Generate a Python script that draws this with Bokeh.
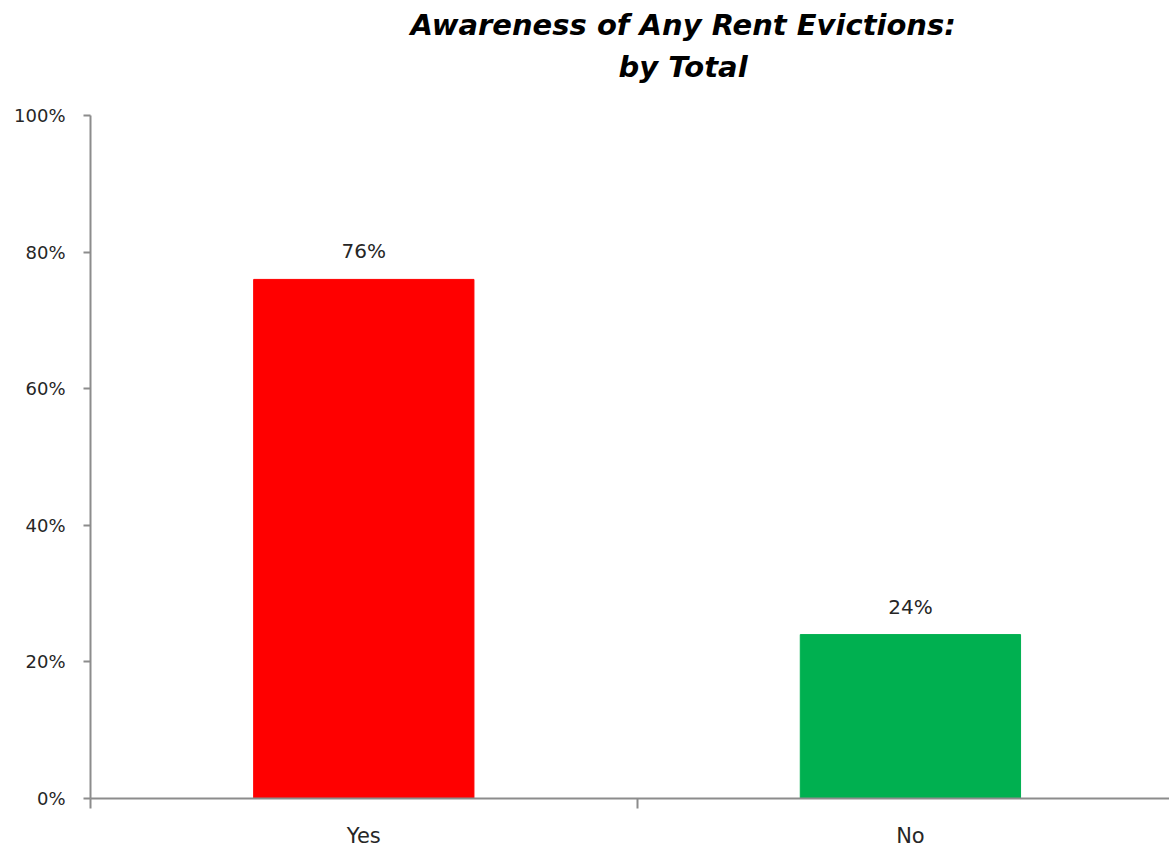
from bokeh.plotting import figure
from bokeh.models import Range1d, FixedTicker, Title, ColumnDataSource
from bokeh.core.properties import value
from bokeh.embed import file_html
from bokeh.resources import INLINE

categories = ["Yes", "No"]
values = [76, 24]
colors = ["#FF0000", "#00B050"]
y_ticks = [0, 20, 40, 60, 80, 100]
title_lines = ["Awareness of Any Rent Evictions:", "by Total"]

positions = [i + 0.5 for i in range(len(categories))]
labels = [f"{v}%" for v in values]
src = ColumnDataSource(dict(x=positions, top=values, color=colors, label=labels))

p = figure(width=1169, height=850, output_backend="svg", toolbar_location=None,
           x_range=Range1d(0, 1.974), y_range=Range1d(0, 100))
p.min_border_left = 90
p.min_border_right = 0
p.min_border_top = 115
p.min_border_bottom = 52
p.outline_line_color = None
p.grid.visible = False
p.background_fill_color = "white"
p.border_fill_color = "white"

p.vbar(x="x", top="top", width=0.403, color="color", source=src)
p.text(x="x", y="top", text="label", source=src, text_align="center",
       text_baseline="bottom", y_offset=-16, text_font=value("DejaVu Sans"),
       text_font_size="20px", text_color="#262626")

xa = p.xaxis[0]
xa.ticker = FixedTicker(ticks=positions, minor_ticks=[0, 1, 2])
xa.major_label_overrides = {pos: c for pos, c in zip(positions, categories)}
xa.major_tick_out = 0
xa.major_tick_in = 0
xa.minor_tick_out = 10
xa.minor_tick_in = 0
xa.minor_tick_line_color = "#8c8c8c"
xa.minor_tick_line_width = 2
xa.axis_line_color = "#8c8c8c"
xa.axis_line_width = 2
xa.major_label_standoff = 15
xa.major_label_text_font = "DejaVu Sans"
xa.major_label_text_font_size = "21px"
xa.major_label_text_color = "#262626"

ya = p.yaxis[0]
ya.ticker = FixedTicker(ticks=y_ticks, minor_ticks=[])
ya.major_label_overrides = {t: f"{t}%" for t in y_ticks}
ya.major_tick_out = 7
ya.major_tick_in = 0
ya.major_tick_line_color = "#8c8c8c"
ya.major_tick_line_width = 2
ya.axis_line_color = "#8c8c8c"
ya.axis_line_width = 2
ya.major_label_standoff = 18
ya.major_label_text_font = "DejaVu Sans"
ya.major_label_text_font_size = "18px"
ya.major_label_text_color = "#262626"

spacer = Title(text=" ", text_font_size="10px", standoff=16)
t2 = Title(text=title_lines[1], align="left", offset=528, text_font="DejaVu Sans",
           text_font_size="29px", text_font_style="bold italic", text_color="#000000",
           standoff=6)
t1 = Title(text=title_lines[0], align="left", offset=320,
           text_font="DejaVu Sans", text_font_size="29px",
           text_font_style="bold italic", text_color="#000000", standoff=6)
p.add_layout(spacer, "above")
p.add_layout(t2, "above")
p.add_layout(t1, "above")

open("out.html", "w").write(file_html(p, INLINE))
